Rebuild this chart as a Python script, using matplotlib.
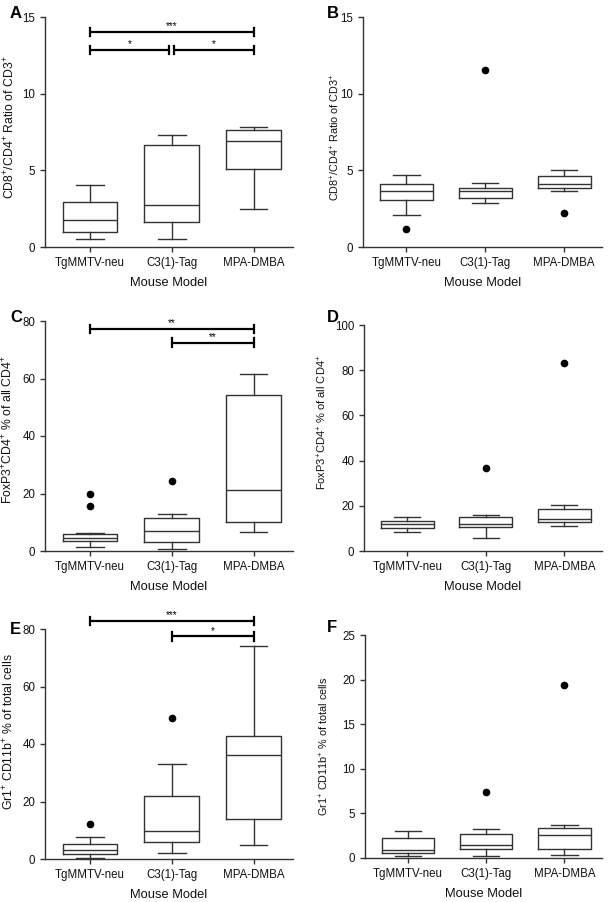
import matplotlib
matplotlib.use("Agg")
import matplotlib.pyplot as plt

plt.rcParams['font.family'] = ['Liberation Sans', 'DejaVu Sans']
plt.rcParams['mathtext.fontset'] = 'custom'
plt.rcParams['mathtext.rm'] = 'Liberation Sans'
plt.rcParams['mathtext.it'] = 'Liberation Sans:italic'
plt.rcParams['mathtext.bf'] = 'Liberation Sans:bold'

categories = ["TgMMTV-neu", "C3(1)-Tag", "MPA-DMBA"]

# Panel data: whislo, q1, med, q3, whishi, fliers
A_lo = [0.52, 0.52, 2.5]
A_q1 = [0.96, 1.63, 5.07]
A_med = [1.74, 2.72, 6.89]
A_q3 = [2.93, 6.65, 7.65]
A_hi = [4.02, 7.28, 7.85]
A_fl = [[], [], []]

B_lo = [2.07, 2.87, 3.65]
B_q1 = [3.07, 3.2, 3.83]
B_med = [3.63, 3.63, 4.11]
B_q3 = [4.11, 3.83, 4.61]
B_hi = [4.70, 4.17, 5.0]
B_fl = [[1.2], [11.57], [2.24]]

C_lo = [1.4, 0.6, 6.6]
C_q1 = [3.35, 3.0, 9.95]
C_med = [4.6, 6.9, 21.3]
C_q3 = [6.0, 11.6, 54.2]
C_hi = [6.1, 12.7, 61.6]
C_fl = [[19.7, 15.5], [24.5], []]

D_lo = [8.55, 5.6, 10.9]
D_q1 = [10.3, 10.5, 12.7]
D_med = [12.1, 12.1, 14.2]
D_q3 = [13.4, 14.9, 18.6]
D_hi = [15.2, 16.1, 20.5]
D_fl = [[], [36.6], [83.0]]

E_lo = [0.2, 2.1, 4.75]
E_q1 = [1.6, 6.0, 13.8]
E_med = [3.25, 9.7, 36.1]
E_q3 = [5.1, 22.0, 42.8]
E_hi = [7.8, 33.0, 74.2]
E_fl = [[12.2], [49.2], []]

F_lo = [0.22, 0.22, 0.34]
F_q1 = [0.56, 1.0, 1.0]
F_med = [0.86, 1.42, 2.57]
F_q3 = [2.24, 2.69, 3.32]
F_hi = [3.06, 3.21, 3.73]
F_fl = [[], [7.39], [19.4]]

# significance: (start, end, y, label)
A_sig = [(0, 2, 14.02, "***"), (0, 0.97, 12.83, "*"), (1.03, 2, 12.83, "*")]
C_sig = [(0, 2, 77.2, "**"), (1, 2, 72.5, "**")]
E_sig = [(0, 2, 82.8, "***"), (1, 2, 77.4, "*")]

ylabelA = r"CD8$^{+}$/CD4$^{+}$ Ratio of CD3$^{+}$"
ylabelC = r"FoxP3$^{+}$CD4$^{+}$ % of all CD4$^{+}$"
ylabelE = r"Gr1$^{+}$ CD11b$^{+}$ % of total cells"

panels = [
    dict(letter="A", pos=(45, 17, 293, 247), data=(A_lo, A_q1, A_med, A_q3, A_hi, A_fl),
         ylim=(0, 15), yticks=[0, 5, 10, 15], ylabel=ylabelA, ylfs=8.8, sig=A_sig,
         lpos=(10, 13), lab=(17, 0.52)),
    dict(letter="B", pos=(363, 17, 602, 247), data=(B_lo, B_q1, B_med, B_q3, B_hi, B_fl),
         ylim=(0, 15), yticks=[0, 5, 10, 15], ylabel=ylabelA, ylfs=7.8, sig=[],
         lpos=(327, 13), lab=(342, 0.478)),
    dict(letter="C", pos=(45, 321, 293, 551), data=(C_lo, C_q1, C_med, C_q3, C_hi, C_fl),
         ylim=(0, 80), yticks=[0, 20, 40, 60, 80], ylabel=ylabelC, ylfs=8.8, sig=C_sig,
         lpos=(10, 318), lab=(15, 0.53)),
    dict(letter="D", pos=(364, 325, 602, 551), data=(D_lo, D_q1, D_med, D_q3, D_hi, D_fl),
         ylim=(0, 100), yticks=[0, 20, 40, 60, 80, 100], ylabel=ylabelC, ylfs=8.0, sig=[],
         lpos=(327, 317), lab=(329, 0.57)),
    dict(letter="E", pos=(45, 629, 293, 859), data=(E_lo, E_q1, E_med, E_q3, E_hi, E_fl),
         ylim=(0, 80), yticks=[0, 20, 40, 60, 80], ylabel=ylabelE, ylfs=8.8, sig=E_sig,
         lpos=(10, 629), lab=(16, 0.556)),
    dict(letter="F", pos=(365, 635, 602, 858), data=(F_lo, F_q1, F_med, F_q3, F_hi, F_fl),
         ylim=(0, 25), yticks=[0, 5, 10, 15, 20, 25], ylabel=ylabelE, ylfs=7.8, sig=[],
         lpos=(327, 627), lab=(331, 0.50)),
]

W, H = 610, 902
fig = plt.figure(figsize=(W / 100, H / 100), dpi=100)
lc = "#333333"

for p in panels:
    x0, y0, x1, y1 = p["pos"]
    ax = fig.add_axes([x0 / W, 1 - y1 / H, (x1 - x0) / W, (y1 - y0) / H])
    lo, q1, med, q3, hi, fl = p["data"]
    stats = []
    for i in range(3):
        stats.append(dict(whislo=lo[i], q1=q1[i], med=med[i], q3=q3[i], whishi=hi[i],
                          fliers=fl[i], label=categories[i]))
    ax.bxp(stats, positions=[0, 1, 2], widths=0.67,
           boxprops=dict(color=lc, linewidth=1.0),
           whiskerprops=dict(color=lc, linewidth=1.0),
           capprops=dict(color=lc, linewidth=1.0),
           medianprops=dict(color=lc, linewidth=1.0),
           flierprops=dict(marker='o', markerfacecolor='black', markeredgecolor='black',
                           markersize=4.5, linestyle='none'))
    ax.set_xlim(-0.55, 2.48)
    ax.set_ylim(*p["ylim"])
    ax.set_yticks(p["yticks"])
    ax.set_xticks([0, 1, 2])
    ax.set_xticklabels(categories)
    for s in ["top", "right"]:
        ax.spines[s].set_visible(False)
    for s in ["left", "bottom"]:
        ax.spines[s].set_color(lc)
        ax.spines[s].set_linewidth(1.0)
    ax.tick_params(direction='out', length=3.5, width=1.0, color=lc, labelsize=8.3, labelcolor='#111111')
    ax.set_xlabel("Mouse Model", fontsize=9.3, labelpad=6, color='#111111')
    ax.set_ylabel(p["ylabel"], fontsize=p["ylfs"], color='#111111')
    lx_px, ly_frac = p["lab"]
    ax.yaxis.set_label_coords((lx_px - x0) / (x1 - x0), ly_frac)
    for (a, b, y, lab) in p["sig"]:
        h = (p["ylim"][1] - p["ylim"][0]) * 0.018
        ax.plot([a, b], [y, y], color='black', linewidth=1.6, clip_on=False, solid_capstyle='butt')
        ax.plot([a, a], [y - h, y + h], color='black', linewidth=1.6, clip_on=False)
        ax.plot([b, b], [y - h, y + h], color='black', linewidth=1.6, clip_on=False)
        ax.text((a + b) / 2, y + h * 0.2, lab, ha='center', va='bottom', fontsize=7, clip_on=False)
    lx, ly = p["lpos"]
    fig.text(lx / W, 1 - ly / H, p["letter"], fontsize=12, fontweight='bold', ha='left', va='center')

fig.savefig("out.png", dpi=100)
